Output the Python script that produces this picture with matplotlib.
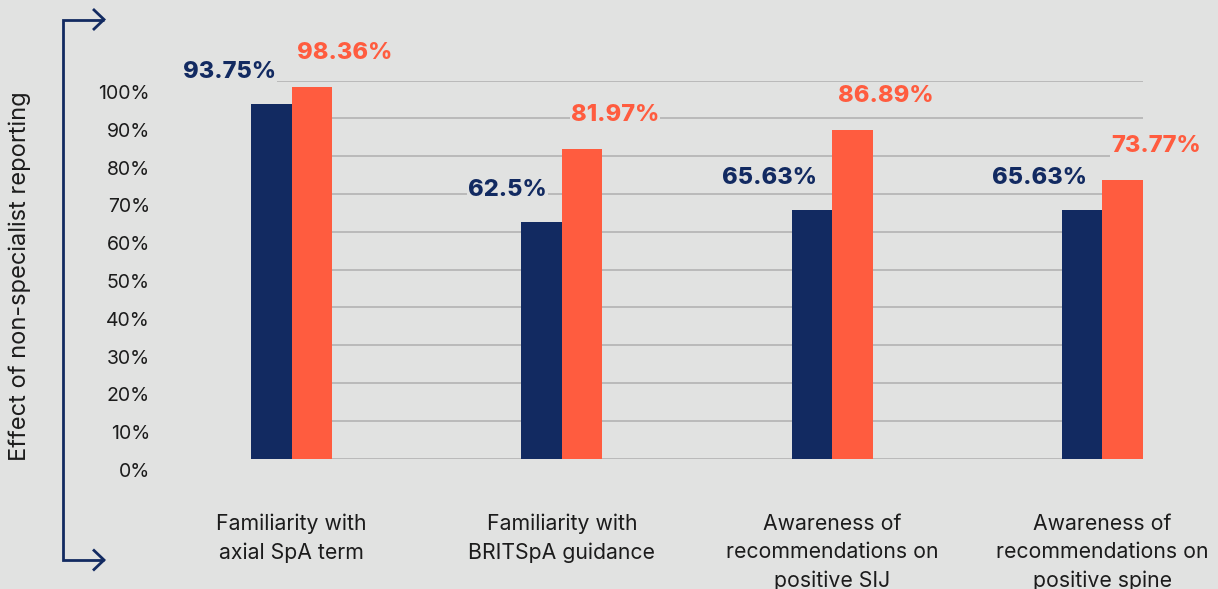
import matplotlib
matplotlib.use("Agg")
import matplotlib.pyplot as plt
import matplotlib.transforms as mtransforms
from matplotlib.lines import Line2D
import numpy as np

categories = [
    "Familiarity with\naxial SpA term",
    "Familiarity with\nBRITSpA guidance",
    "Awareness of\nrecommendations on\npositive SIJ",
    "Awareness of\nrecommendations on\npositive spine",
]
series_a = [93.75, 62.5, 65.63, 65.63]
series_b = [98.36, 81.97, 86.89, 73.77]
labels_a = ["93.75%", "62.5%", "65.63%", "65.63%"]
labels_b = ["98.36%", "81.97%", "86.89%", "73.77%"]
yticks = [0, 10, 20, 30, 40, 50, 60, 70, 80, 90, 100]
ytick_labels = ["0%", "10%", "20%", "30%", "40%", "50%", "60%", "70%", "80%", "90%", "100%"]
ylabel = "Effect of non-specialist reporting"

NAVY = "#122a61"
ORANGE = "#ff5c3f"
BG = "#e1e2e1"
GRID = "#b3b3b3"
TEXT = "#1c1c1c"

plt.rcParams['font.family'] = ['Inter', 'DejaVu Sans']

W, H = 1218, 589
fig = plt.figure(figsize=(W / 100, H / 100), dpi=100, facecolor=BG)

def fx(px):
    return px / W

def fy(py):
    return 1 - py / H

ax = fig.add_axes([fx(251), fy(458.5), fx(1143) - fx(251), (458.5 - 80.5) / H])
ax.set_facecolor(BG)

x = np.arange(len(categories))
bw = 0.15
ax.bar(x - bw / 2, series_a, width=bw, color=NAVY, zorder=3)
ax.bar(x + bw / 2, series_b, width=bw, color=ORANGE, zorder=3)

ax.set_xlim(-bw, len(categories) - 1 + bw)
ax.set_ylim(0, 100)
ax.set_yticks(yticks)
ax.set_yticklabels(ytick_labels, fontsize=14, color=TEXT)
ax.yaxis.grid(True, color=GRID, linewidth=1.2, zorder=0)
ax.tick_params(axis='y', length=0, pad=101 * 0.72)
ax.set_xticks([])
for s in ax.spines.values():
    s.set_visible(False)

offset = mtransforms.ScaledTranslation(0, -11.5 / 100, fig.dpi_scale_trans)
for lab in ax.get_yticklabels():
    lab.set_transform(lab.get_transform() + offset)

for xi, v, t in zip(x, series_a, labels_a):
    ax.annotate(t, (xi - bw / 2, v), xytext=(5, 32), textcoords='offset pixels',
                ha='right', va='center', fontsize=17, fontweight='heavy', color=NAVY,
                zorder=2, bbox=dict(boxstyle='square,pad=0.05', fc=BG, ec='none'))
for xi, v, t in zip(x, series_b, labels_b):
    ax.annotate(t, (xi + bw / 2, v), xytext=(33, 34), textcoords='offset pixels',
                ha='center', va='center', fontsize=17, fontweight='heavy', color=ORANGE,
                zorder=2, bbox=dict(boxstyle='square,pad=0.05', fc=BG, ec='none'))

cat_tr = mtransforms.blended_transform_factory(ax.transData, fig.transFigure)
for xi, c in zip(x, categories):
    ax.text(xi, fy(514), c, transform=cat_tr, fontsize=15.3, color=TEXT,
            ha='center', va='top', linespacing=1.5)

fig.text(fx(20), fy(276), ylabel, rotation=90, ha='center', va='center',
         fontsize=17, color=TEXT)

# bracket arrow
lw = 2
def fl(xs, ys):
    fig.add_artist(Line2D([fx(a) for a in xs], [fy(b) for b in ys], color=NAVY,
                          linewidth=lw, solid_capstyle='butt', solid_joinstyle='miter'))
fl([104, 63, 63, 104], [19.5, 19.5, 560, 560])
fl([93, 104, 93], [9, 19.5, 30])
fl([93, 104, 93], [549.5, 560, 570.5])

fig.savefig("out.png", dpi=100, facecolor=BG)
